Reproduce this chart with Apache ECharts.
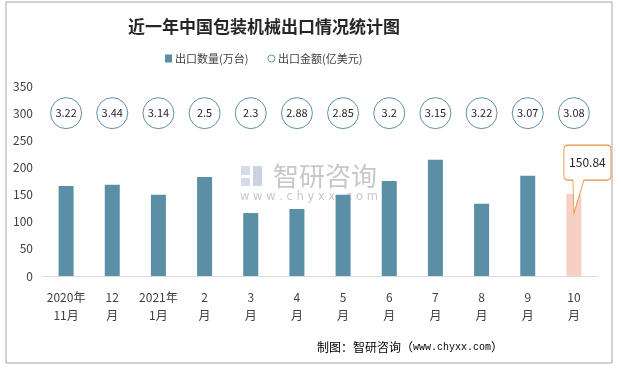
<!DOCTYPE html>
<html>
<head>
<meta charset="utf-8">
<script src="https://cdn.jsdelivr.net/npm/echarts@6/dist/echarts.min.js"></script>
<style>
html,body{margin:0;padding:0;background:#fff;}
#main{width:621px;height:368px;}
</style>
</head>
<body>
<div id="main"></div>
<script>
const categories = ['2020年\n11月','12\n月','2021年\n1月','2\n月','3\n月','4\n月','5\n月','6\n月','7\n月','8\n月','9\n月','10\n月'];
const quantity = [166, 168, 149.5, 182.5, 116, 123.5, 149.5, 175, 214, 133, 184.5, 150.84];
const amount = [3.22, 3.44, 3.14, 2.5, 2.3, 2.88, 2.85, 3.2, 3.15, 3.22, 3.07, 3.08];
const circleLevel = 300;
const yMin = 0, yMax = 350, yStep = 50;

const BAR = '#5B8FA6';
const PINK = '#F7D0C5';
const ORANGE = '#E8903A';
const FONT = '"Noto Sans CJK SC","Noto Sans",sans-serif';

const chart = echarts.init(document.getElementById('main'), null, {renderer:'canvas'});
const last = quantity.length - 1;

const callout = 'path://M4,0 L43,0 Q47,0 47,4 L47,31 Q47,35 43,35 L20,35 L10,68 L9,35 L4,35 Q0,35 0,31 L0,4 Q0,0 4,0 Z';

chart.setOption({
  animation: false,
  textStyle: {fontFamily: FONT},
  title: {
    text: '近一年中国包装机械出口情况统计图',
    left: 123, top: 13,
    textStyle: {fontSize: 17, fontWeight: 'bold', color: '#262626', fontFamily: FONT}
  },
  legend: {
    left: 165, top: 53, padding: 0,
    itemWidth: 7, itemHeight: 8, itemGap: 19,
    textStyle: {fontSize: 11, color: '#404040', padding: [0,0,0,-2]},
    data: [
      {name: '出口数量(万台)', icon: 'rect'},
      {name: '出口金额(亿美元)', icon: 'circle', itemStyle: {color: '#fff', borderColor: BAR, borderWidth: 1}}
    ]
  },
  grid: {left: 43, right: 24, top: 86, bottom: 92},
  xAxis: {
    type: 'category',
    data: categories,
    axisLine: {lineStyle: {color: '#D9D9D9'}},
    axisTick: {show: false},
    axisLabel: {fontSize: 12, color: '#404040', lineHeight: 18, margin: 12, interval: 0}
  },
  yAxis: {
    type: 'value',
    min: yMin, max: yMax, interval: yStep,
    axisLine: {show: false},
    axisTick: {show: false},
    splitLine: {show: false},
    axisLabel: {fontSize: 12, color: '#404040', margin: 10}
  },
  series: [
    {
      name: '出口数量(万台)',
      type: 'bar',
      barWidth: 15,
      itemStyle: {color: BAR},
      data: quantity.map((v, i) => i === last ? {value: v, itemStyle: {color: PINK}} : v),
      markPoint: {
        symbol: callout,
        symbolSize: [47, 68],
        symbolKeepAspect: false,
        symbolOffset: [13.5, -15],
        itemStyle: {color: '#fff', borderColor: ORANGE, borderWidth: 1},
        label: {show: true, color: '#262626', fontSize: 12, offset: [0, -17], formatter: p => p.value},
        data: [{coord: [last, quantity[last]], value: quantity[last]}]
      }
    },
    {
      name: '出口金额(亿美元)',
      type: 'scatter',
      symbol: 'circle',
      symbolSize: 31,
      itemStyle: {color: '#fff', borderColor: BAR, borderWidth: 1, opacity: 1},
      label: {show: true, position: 'inside', fontSize: 11, color: '#262626', formatter: p => amount[p.dataIndex]},
      data: amount.map(() => circleLevel)
    }
  ],
  graphic: [
    {type: 'rect', shape: {x: 6, y: 2, width: 606, height: 361}, style: {fill: 'none', stroke: '#A6A6A6', lineWidth: 1}, silent: true},
    {type: 'group', silent: true, z: -1, children: [
      {type: 'rect', shape: {x: 241, y: 166, width: 9, height: 9}, style: {fill: '#D5DCE8'}},
      {type: 'rect', shape: {x: 241, y: 178, width: 9, height: 8}, style: {fill: '#D5DCE8'}},
      {type: 'rect', shape: {x: 253, y: 166, width: 9, height: 20}, style: {fill: '#C9D3E2'}},
      {type: 'text', style: {x: 273, y: 176, text: '智研咨询', font: '26px "Noto Sans CJK SC"', fill: '#C8C8C8', textVerticalAlign: 'middle'}},
      {type: 'text', style: {x: 240, y: 197, text: 'w w w . c h y x x . c o m', font: '11.5px "DejaVu Sans"', fill: '#C8C8C8', textVerticalAlign: 'middle'}}
    ]},
    {type: 'text', right: 118, top: 341, style: {
      text: '{c|制图：智研咨询（}{m|www.chyxx.com}{c|）}',
      rich: {
        c: {fontSize: 12, fontFamily: '"Noto Sans CJK SC"', color: '#262626'},
        m: {fontSize: 10, fontFamily: '"Liberation Mono"', color: '#262626'}
      }
    }}
  ]
});
</script>
</body>
</html>
